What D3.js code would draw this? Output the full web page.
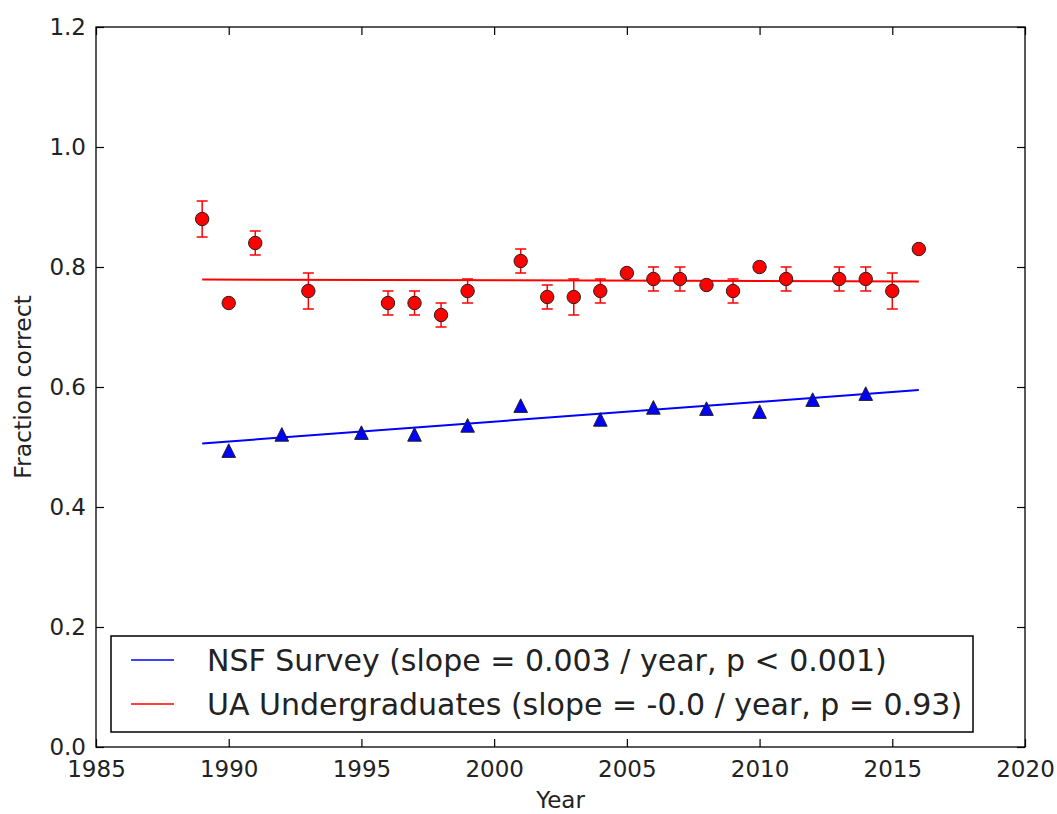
<!DOCTYPE html>
<html>
<head>
<meta charset="utf-8">
<script src="https://cdn.jsdelivr.net/npm/d3@7"></script>
<style>
  html, body { margin: 0; padding: 0; background: #fff; }
  svg { display: block; font-family: "DejaVu Sans", sans-serif; }
</style>
</head>
<body>
<svg id="chart" width="1057" height="814"></svg>
<script>
// NSF survey results (fraction correct by year)
const nsfYears  = [1990, 1992, 1995, 1997, 1999, 2001, 2004, 2006, 2008, 2010, 2012, 2014];
const nsfValues = [0.494, 0.521, 0.524, 0.521, 0.536, 0.569, 0.546, 0.566, 0.564, 0.559, 0.579, 0.589];

// UA undergraduate results with standard errors
const uaYears  = [1989, 1990, 1991, 1993, 1996, 1997, 1998, 1999, 2001, 2002, 2003, 2004, 2005, 2006, 2007, 2008, 2009, 2010, 2011, 2013, 2014, 2015, 2016];
const uaValues = [0.88, 0.74, 0.84, 0.76, 0.74, 0.74, 0.72, 0.76, 0.81, 0.75, 0.75, 0.76, 0.79, 0.78, 0.78, 0.77, 0.76, 0.80, 0.78, 0.78, 0.78, 0.76, 0.83];
const uaErrors = [0.03, 0.005, 0.02, 0.03, 0.02, 0.02, 0.02, 0.02, 0.02, 0.02, 0.03, 0.02, 0.005, 0.02, 0.02, 0.005, 0.02, 0.005, 0.02, 0.02, 0.02, 0.03, 0.005];

// Linear fits evaluated at the ends of the year range
const fitYears = [1989, 2016];
const nsfFit   = [0.506, 0.595];
const uaFit    = [0.779, 0.776];

const xTicks = [1985, 1990, 1995, 2000, 2005, 2010, 2015, 2020];
const yTicks = [0.0, 0.2, 0.4, 0.6, 0.8, 1.0, 1.2];

const legendLabels = [
  "NSF Survey (slope = 0.003 / year, p < 0.001)",
  "UA Undergraduates (slope = -0.0 / year, p = 0.93)"
];
const legendColors = ["#0000ff", "#ff0000"];

const svg = d3.select("#chart");
const plotL = 96, plotR = 1025, plotT = 27, plotB = 747;

const x = d3.scaleLinear().domain([1985, 2020]).range([plotL, plotR]);
const y = d3.scaleLinear().domain([0, 1.2]).range([plotB, plotT]);

const tickLen = 8;
const tickFont = 23;

// axes (ticks pointing inward on all four sides)
const axB = d3.axisBottom(x).tickValues(xTicks).tickFormat(d3.format("d")).tickSizeInner(-tickLen).tickSizeOuter(0).tickPadding(14);
const axT = d3.axisTop(x).tickValues(xTicks).tickFormat("").tickSizeInner(-tickLen).tickSizeOuter(0);
const axL = d3.axisLeft(y).tickValues(yTicks).tickFormat(d3.format(".1f")).tickSizeInner(-tickLen).tickSizeOuter(0).tickPadding(10);
const axR = d3.axisRight(y).tickValues(yTicks).tickFormat("").tickSizeInner(-tickLen).tickSizeOuter(0);

function styleAxis(g) {
  g.select(".domain").remove();
  g.selectAll(".tick line").attr("stroke", "#000").attr("stroke-width", 1.2);
  g.selectAll(".tick text").attr("fill", "#222").style("font-size", tickFont + "px").style("font-family", "DejaVu Sans");
}

svg.append("g").attr("transform", `translate(0,${plotB})`).call(axB).call(styleAxis);
svg.append("g").attr("transform", `translate(0,${plotT})`).call(axT).call(styleAxis);
svg.append("g").attr("transform", `translate(${plotL},0)`).call(axL).call(styleAxis);
svg.append("g").attr("transform", `translate(${plotR},0)`).call(axR).call(styleAxis);

// fit lines
const line = d3.line().x(d => x(d[0])).y(d => y(d[1]));
svg.append("path")
  .datum(d3.zip(fitYears, nsfFit))
  .attr("d", line).attr("fill", "none").attr("stroke", "#0000ff").attr("stroke-width", 2);
svg.append("path")
  .datum(d3.zip(fitYears, uaFit))
  .attr("d", line).attr("fill", "none").attr("stroke", "#ff0000").attr("stroke-width", 2);

// NSF triangles
const tri = 6.8;
svg.append("g").selectAll("path")
  .data(d3.zip(nsfYears, nsfValues))
  .join("path")
  .attr("transform", d => `translate(${x(d[0])},${y(d[1])})`)
  .attr("d", `M0,${-tri}L${-tri},${tri}L${tri},${tri}Z`)
  .attr("fill", "#0000ff")
  .attr("stroke", "#222")
  .attr("stroke-width", 1);

// UA error bars
const ua = uaYears.map((yr, i) => ({ yr, v: uaValues[i], e: uaErrors[i] }));
const cap = 5.5;
const eb = svg.append("g").attr("stroke", "#ff0000").attr("stroke-width", 1.5);
eb.selectAll("line.v").data(ua).join("line").attr("class", "v")
  .attr("x1", d => x(d.yr)).attr("x2", d => x(d.yr))
  .attr("y1", d => y(d.v - d.e)).attr("y2", d => y(d.v + d.e));
eb.selectAll("line.t").data(ua).join("line").attr("class", "t")
  .attr("x1", d => x(d.yr) - cap).attr("x2", d => x(d.yr) + cap)
  .attr("y1", d => y(d.v + d.e)).attr("y2", d => y(d.v + d.e));
eb.selectAll("line.b").data(ua).join("line").attr("class", "b")
  .attr("x1", d => x(d.yr) - cap).attr("x2", d => x(d.yr) + cap)
  .attr("y1", d => y(d.v - d.e)).attr("y2", d => y(d.v - d.e));

// UA circles
svg.append("g").selectAll("circle")
  .data(ua)
  .join("circle")
  .attr("cx", d => x(d.yr)).attr("cy", d => y(d.v))
  .attr("r", 6.7)
  .attr("fill", "#ff0000")
  .attr("stroke", "#222")
  .attr("stroke-width", 1);

// plot frame
svg.append("rect")
  .attr("x", plotL).attr("y", plotT)
  .attr("width", plotR - plotL).attr("height", plotB - plotT)
  .attr("fill", "none").attr("stroke", "#000").attr("stroke-width", 1.3);

// axis titles
svg.append("text")
  .attr("x", (plotL + plotR) / 2).attr("y", 808)
  .attr("text-anchor", "middle")
  .style("font-size", "23px").attr("fill", "#222")
  .text("Year");
svg.append("text")
  .attr("transform", `translate(31,${(plotT + plotB) / 2}) rotate(-90)`)
  .attr("text-anchor", "middle")
  .style("font-size", "23.5px").attr("fill", "#222")
  .text("Fraction correct");

// legend
const lg = svg.append("g");
lg.append("rect")
  .attr("x", 111).attr("y", 636).attr("width", 862).attr("height", 96)
  .attr("fill", "#fff").attr("stroke", "#000").attr("stroke-width", 1.5);
legendLabels.forEach((lab, i) => {
  const cy = 660 + i * 44;
  lg.append("line")
    .attr("x1", 131).attr("x2", 174).attr("y1", cy).attr("y2", cy)
    .attr("stroke", legendColors[i]).attr("stroke-width", 1.5);
  lg.append("text")
    .attr("x", 207).attr("y", cy + 10.5)
    .style("font-size", "30px").attr("fill", "#222")
    .text(lab);
});
</script>
</body>
</html>
